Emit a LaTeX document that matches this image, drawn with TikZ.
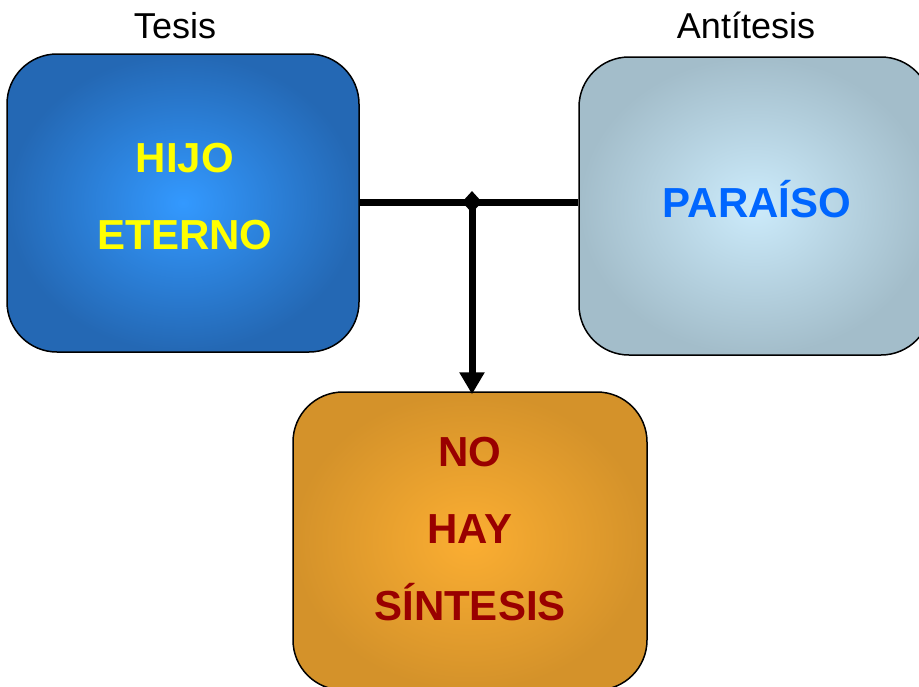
\documentclass[tikz,border=0pt]{standalone}
\usepackage{fontspec}
\setmainfont{Liberation Sans}
\usetikzlibrary{shapes.geometric,arrows.meta}
\definecolor{bluein}{HTML}{3399FF}
\definecolor{blueout}{HTML}{2468B4}
\definecolor{greyin}{HTML}{CCEBFB}
\definecolor{greyout}{HTML}{A3BDCA}
\definecolor{orin}{HTML}{FBAE32}
\definecolor{orout}{HTML}{D4922A}
\definecolor{txtyellow}{HTML}{FFFF00}
\definecolor{txtblue}{HTML}{0066FF}
\definecolor{txtred}{HTML}{990000}
\tikzset{
  boxnode/.style={draw=black, line width=1.5pt, rounded corners=50pt,
    minimum width=352pt, minimum height=298pt, inner sep=0pt},
  boxtext/.style={anchor=base, inner sep=0pt, font=\fontsize{42}{50}\selectfont\bfseries},
  headtext/.style={anchor=base, inner sep=0pt, font=\fontsize{36}{42}\selectfont},
  conn/.style={line width=7pt, black},
  jdot/.style={diamond, fill=black, minimum width=20pt, minimum height=22pt, inner sep=0pt},
}
\begin{document}
\begin{tikzpicture}[x=1pt,y=-1pt]
\useasboundingbox (0,0) rectangle (919,686);
\clip (0,0) rectangle (919,686);
\fill[white] (0,0) rectangle (919,686);
% boxes
\node[boxnode, inner color=bluein, outer color=blueout] (b1) at (183,203) {};
\node[boxnode, inner color=greyin, outer color=greyout] (b2) at (755,206) {};
\node[boxnode, minimum width=354pt, inner color=orin, outer color=orout] (b3) at (470,541) {};
% headings
\node[headtext] (h1) at (175,38) {Tesis};
\node[headtext] (h2) at (746,38) {Antítesis};
% box texts
\node[boxtext, text=txtyellow] (t1a) at (185,172) {HIJO};
\node[boxtext, text=txtyellow] (t1b) at (185,249) {ETERNO};
\node[boxtext, text=txtblue] (t2) at (757,217) {PARAÍSO};
\node[boxtext, text=txtred] (t3a) at (470,466) {NO};
\node[boxtext, text=txtred] (t3b) at (470,543) {HAY};
\node[boxtext, text=txtred] (t3c) at (470,620) {SÍNTESIS};
% connectors
\coordinate (j) at (472,202);
\draw[conn] (b1.east |- j) -- (b2.west |- j);
\draw[conn, -{Triangle[width=24pt,length=22pt]}] (j) -- ([yshift=-3pt]j |- b3.north);
\node[jdot] (jd) at (j) {};
\end{tikzpicture}
\end{document}
